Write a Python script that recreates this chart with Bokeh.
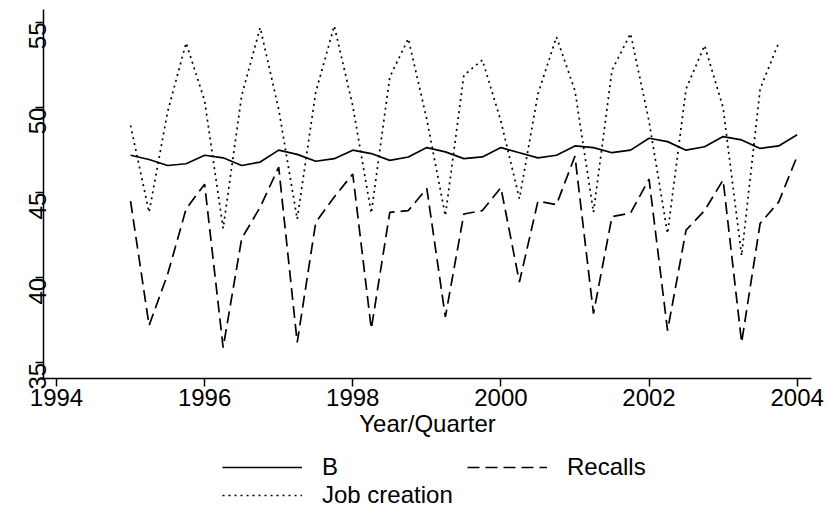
import math
from bokeh.plotting import figure
from bokeh.models import Range1d, FixedTicker, Legend, LegendItem
from bokeh.embed import file_html
from bokeh.resources import INLINE

# Quarterly observations 1995Q1 .. 2004Q1
quarters = [1995 + 0.25 * i for i in range(37)]

b_vals = [47.2, 46.95, 46.6, 46.7,
          47.2, 47.05, 46.6, 46.8,
          47.5, 47.25, 46.85, 47.0,
          47.5, 47.3, 46.9, 47.1,
          47.65, 47.4, 47.0, 47.1,
          47.65, 47.35, 47.05, 47.2,
          47.75, 47.65, 47.35, 47.5,
          48.2, 48.0, 47.5, 47.7,
          48.3, 48.1, 47.6, 47.75,
          48.4]

recalls = [44.5, 37.2, 40.2, 44.05,
           45.5, 35.9, 42.3, 44.15,
           46.5, 36.2, 43.25, 44.75,
           46.1, 37.0, 43.85, 43.95,
           45.25, 37.7, 43.75, 43.95,
           45.3, 39.75, 44.5, 44.3,
           47.15, 37.9, 43.6, 43.8,
           45.8, 36.9, 42.8, 43.95,
           45.75, 36.2, 43.2, 44.45,
           47.15]

job_creation = [48.95, 43.85, 49.75, 53.8,
                50.4, 42.9, 50.7, 54.7,
                49.9, 43.45, 50.9, 54.8,
                50.1, 43.8, 51.8, 54.05,
                49.3, 43.65, 51.9, 52.8,
                49.2, 44.65, 50.8, 54.15,
                51.0, 43.85, 52.2, 54.35,
                49.2, 42.6, 51.1, 53.65,
                50.0, 41.3, 51.1, 53.8]

x_ticks = [1994, 1996, 1998, 2000, 2002, 2004]
y_ticks = [35, 40, 45, 50, 55]

FONT = "Liberation Sans"
X_AXIS_LEFT, X_AXIS_RIGHT = 1993.82, 2004.2
Y_AXIS_BOTTOM, Y_AXIS_TOP = 34.1, 55.75

p = figure(width=828, height=509, output_backend="svg", toolbar_location=None,
           x_range=Range1d(1993.244, 2004.423), y_range=Range1d(26.387, 56.293),
           min_border_left=0, min_border_right=0, min_border_top=0,
           min_border_bottom=0)
p.outline_line_color = None
p.xgrid.visible = False
p.ygrid.visible = False
p.background_fill_color = "white"
p.border_fill_color = "white"

r_b = p.line(quarters, b_vals, line_color="black", line_width=1.7)
r_rec = p.line(quarters, recalls, line_color="black", line_width=1.7,
               line_dash="12 6")
r_job = p.line(quarters[:len(job_creation)], job_creation, line_color="black",
               line_width=1.7, line_dash="2 4")

for ax in (p.xaxis[0], p.yaxis[0]):
    ax.axis_line_color = "black"
    ax.axis_line_width = 1.5
    ax.major_tick_line_color = "black"
    ax.major_tick_line_width = 1.5
    ax.major_tick_out = 8
    ax.major_tick_in = 0
    ax.minor_tick_out = 0
    ax.minor_tick_in = 0
    ax.major_label_text_font = FONT
    ax.major_label_text_font_size = "24px"
    ax.major_label_text_color = "black"

p.xaxis[0].ticker = FixedTicker(ticks=x_ticks)
p.yaxis[0].ticker = FixedTicker(ticks=y_ticks)
p.xaxis[0].fixed_location = Y_AXIS_BOTTOM
p.xaxis[0].bounds = (X_AXIS_LEFT, X_AXIS_RIGHT)
p.yaxis[0].fixed_location = X_AXIS_LEFT
p.yaxis[0].bounds = (Y_AXIS_BOTTOM, Y_AXIS_TOP)
p.xaxis[0].major_label_standoff = 3
p.yaxis[0].major_label_standoff = -2
p.yaxis[0].major_label_orientation = math.pi / 2

p.xaxis[0].axis_label = "Year/Quarter"
p.xaxis[0].axis_label_text_font = FONT
p.xaxis[0].axis_label_text_font_size = "24px"
p.xaxis[0].axis_label_text_font_style = "normal"
p.xaxis[0].axis_label_text_color = "black"
p.xaxis[0].axis_label_standoff = 0

legend = Legend(items=[LegendItem(label="B", renderers=[r_b]),
                       LegendItem(label="Recalls", renderers=[r_rec]),
                       LegendItem(label="Job creation", renderers=[r_job])],
                orientation="horizontal", ncols=2,
                location=(222, 0))
legend.padding = 0
legend.margin = 0
legend.spacing = 0
legend.glyph_width = 80
legend.glyph_height = 20
legend.label_standoff = 20
legend.label_width = 145
legend.label_text_font = FONT
legend.label_text_font_size = "24px"
legend.label_text_color = "black"
legend.border_line_color = None
legend.background_fill_alpha = 0
p.add_layout(legend)

open("out.html", "w").write(file_html(p, INLINE))
